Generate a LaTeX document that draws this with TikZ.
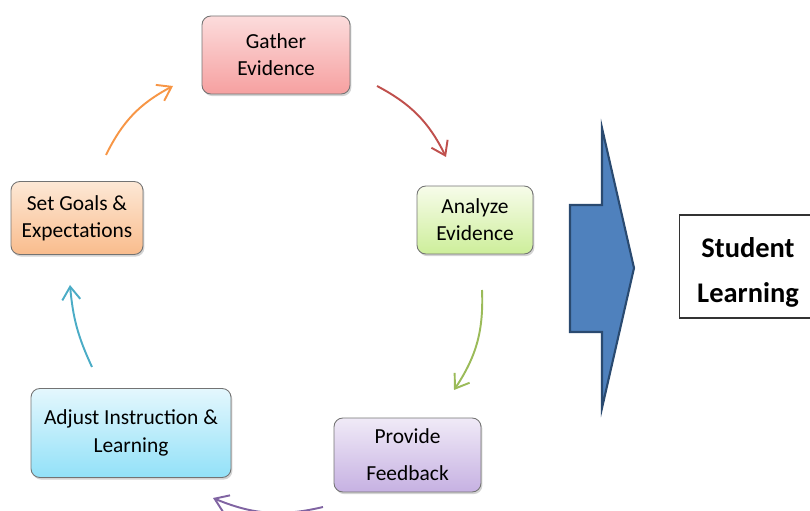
\documentclass[tikz,border=0pt]{standalone}
\usepackage{fontspec}
\setmainfont{Carlito}
\usetikzlibrary{positioning, arrows.meta, shadows}
\usepackage{xcolor}
\definecolor{myorange}{HTML}{F79646}
\definecolor{myred}{HTML}{C0504D}
\definecolor{mygreen}{HTML}{9BBB59}
\definecolor{mypurple}{HTML}{8064A2}
\definecolor{mycyan}{HTML}{4BACC6}
\definecolor{myblue}{HTML}{4F81BD}
\definecolor{mynavy}{HTML}{2A4A70}
% rellenos de las cajas
\definecolor{pinktop}{HTML}{FCDCDC}
\definecolor{pinkbot}{HTML}{F6A0A0}
\definecolor{greentop}{HTML}{F7FCEA}
\definecolor{greenbot}{HTML}{CDEE9A}
\definecolor{orangetop}{HTML}{FDE8D6}
\definecolor{orangebot}{HTML}{F9BC8C}
\definecolor{skytop}{HTML}{E4F7FD}
\definecolor{skybot}{HTML}{92E1F8}
\definecolor{liltop}{HTML}{F0EAF7}
\definecolor{lilbot}{HTML}{C6B1E2}

\begin{document}
\begin{tikzpicture}[
    x=0.02cm, y=0.02cm,
    font=\fontsize{12.2}{15.5}\selectfont,
    % Estilos de los nodos
    phase/.style={
        rectangle,
        draw=black!55,
        rounded corners=5pt,
        align=center,
        line width=0.5pt,
        drop shadow={shadow xshift=0.8pt, shadow yshift=-1.2pt, opacity=0.35}
    },
    % Estilos de las flechas
    cyclearrow/.style={-{Straight Barb[length=2.6mm, width=3.6mm]}, line width=1.1pt, bend left=18}
]
\useasboundingbox (0,0) rectangle (810,510);

% -- Ciclo --
\node[phase, top color=pinktop, bottom color=pinkbot, minimum width=2.96cm, minimum height=1.56cm] (gather) at (276,455) {Gather\\Evidence};

\node[phase, top color=greentop, bottom color=greenbot, minimum width=2.32cm, minimum height=1.36cm] (analyze) at (475,290) {Analyze\\Evidence};

\node[phase, top color=skytop, bottom color=skybot, minimum width=4.0cm, minimum height=1.78cm] (adjust) at (131,77) {Adjust Instruction \&\\Learning};

\node[phase, top color=liltop, bottom color=lilbot, minimum width=2.94cm, minimum height=1.48cm, font=\fontsize{12.2}{21}\selectfont] (feedback) at (407.5,55) {Provide\\Feedback};

\node[phase, top color=orangetop, bottom color=orangebot, minimum width=2.64cm, minimum height=1.46cm] (goals) at (77,292) {Set Goals \&\\Expectations};

% -- Resultado --
\node[draw=black!80, line width=0.6pt, minimum width=2.76cm, minimum height=2.06cm, align=center,
      font=\fontsize{16.2}{26}\selectfont\bfseries] (student) at (748,243.5) {\raisebox{-20.5pt}[0pt][0pt]{\shortstack{Student\\[11.3pt]Learning}}};

% Flecha grande
\draw[fill=myblue, draw=mynavy, line width=1.2pt, line join=miter]
    (570,305) -- (602,305) -- (602,382) -- (634,242) -- (602,102) -- (602,178) -- (570,178) -- cycle;

% -- Puntos de las flechas --
\coordinate (goals-out) at (106,355);
\coordinate (gather-in) at (173,424);
\coordinate (gather-out) at (377,424);
\coordinate (analyze-in) at (446,353);
\coordinate (analyze-out) at (482,220);
\coordinate (feedback-in) at (454,120);
\coordinate (feedback-out) at (323,3);
\coordinate (adjust-in) at (213,12);
\coordinate (adjust-out) at (92,143);
\coordinate (goals-in) at (70,225);

% -- Conexiones del ciclo --
\draw[cyclearrow, color=myorange] (goals-out) to (gather-in);
\draw[cyclearrow, color=myred] (gather-out) to (analyze-in);
\draw[cyclearrow, color=mygreen] (analyze-out) to (feedback-in);
\draw[cyclearrow, color=mypurple] (feedback-out) to (adjust-in);
\draw[cyclearrow, color=mycyan, bend left=10] (adjust-out) to (goals-in);

\end{tikzpicture}
\end{document}
